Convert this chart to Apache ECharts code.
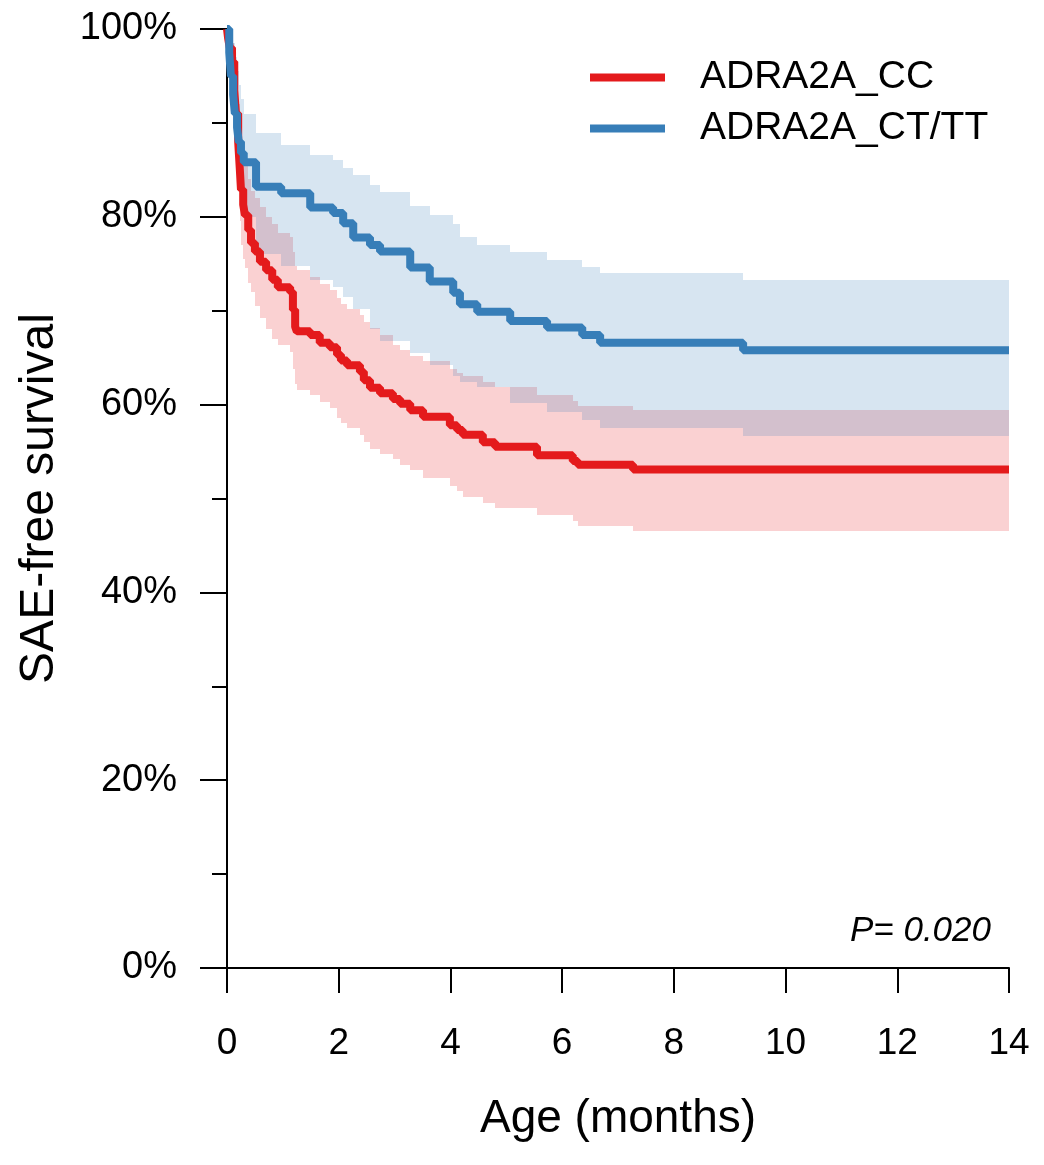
<!DOCTYPE html>
<html>
<head>
<meta charset="utf-8">
<script src="https://cdn.jsdelivr.net/npm/echarts@6/dist/echarts.min.js"></script>
<style>
html,body{margin:0;padding:0;background:#fff;}
#chart{width:1044px;height:1165px;}
</style>
</head>
<body>
<div id="chart"></div>
<script>
// ---- data (months, survival %) ----
const xTicks = [0, 2, 4, 6, 8, 10, 12, 14];
const yTicks = [0, 20, 40, 60, 80, 100];

const ccTime  = [0, 0.02, 0.05, 0.09, 0.13, 0.16, 0.20, 0.23, 0.25, 0.29, 0.32, 0.38, 0.43, 0.50, 0.59, 0.70, 0.81, 0.91, 1.13, 1.18, 1.22, 1.25, 1.49, 1.66, 1.84, 1.97, 2.04, 2.15, 2.38, 2.45, 2.56, 2.74, 2.97, 3.10, 3.28, 3.51, 3.99, 4.12, 4.22, 4.58, 4.80, 5.55, 6.19, 6.28, 7.27, 14];
const ccSurv  = [100, 99, 98, 96.5, 93.5, 91, 88, 85, 82.9, 81.3, 80.2, 78.6, 77.2, 76.3, 75.2, 74.3, 73.3, 72.5, 72.0, 70.1, 68.3, 67.8, 67.4, 66.6, 66.1, 65.3, 64.7, 64.2, 63.5, 62.6, 61.8, 61.2, 60.6, 60.1, 59.4, 58.7, 57.8, 57.3, 56.8, 56.0, 55.5, 54.6, 54.0, 53.6, 53.1, 53.1];
const ccLower = [100, 97, 95, 92.5, 89, 86, 83, 79.5, 77, 75.5, 74.5, 73, 72, 70.5, 69.2, 68, 67, 66.3, 65.6, 63.8, 62.2, 61.6, 61.0, 60.3, 59.6, 58.6, 58.0, 57.5, 56.8, 56.0, 55.3, 54.7, 54.2, 53.6, 53.0, 52.2, 51.3, 50.8, 50.2, 49.5, 49.0, 48.2, 47.6, 47.1, 46.5, 46.5];
const ccUpper = [100, 100, 99.5, 98.5, 96.5, 94.5, 92, 89.5, 88, 86.5, 85.5, 84, 82.8, 82, 81, 80, 79.2, 78.3, 77.8, 76.2, 74.8, 74.3, 73.6, 72.8, 72.2, 71.3, 70.7, 70.2, 69.5, 68.8, 68.2, 67.4, 66.3, 65.8, 65.2, 64.6, 63.8, 63.4, 63.0, 62.4, 61.9, 61.0, 60.4, 59.9, 59.4, 59.4];

const ttTime  = [0, 0.04, 0.07, 0.11, 0.14, 0.18, 0.21, 0.25, 0.30, 0.52, 0.97, 1.49, 1.90, 2.08, 2.26, 2.56, 2.74, 3.28, 3.63, 4.05, 4.17, 4.48, 5.07, 5.73, 6.36, 6.68, 9.24, 14];
const ttSurv  = [100, 97.5, 95, 93, 91, 89.5, 88, 86.8, 85.8, 83.2, 82.5, 81.0, 80.4, 79.3, 77.8, 77.0, 76.3, 74.6, 73.1, 71.9, 70.7, 69.9, 68.9, 68.2, 67.4, 66.6, 65.8, 65.8];
const ttLower = [100, 95, 92, 89.5, 87, 85, 83, 81.5, 80, 76, 74.8, 73.3, 72.5, 71.5, 70.2, 68.0, 66.8, 65.5, 64.2, 63.0, 62.4, 61.9, 60.2, 59.2, 58.4, 57.5, 56.7, 56.7];
const ttUpper = [100, 100, 99.5, 98.5, 97, 95.5, 94, 92.5, 91, 88.9, 87.6, 86.6, 86.0, 85.2, 84.4, 83.4, 82.6, 81.2, 80.2, 79.2, 77.8, 77.0, 76.3, 75.4, 74.7, 74.0, 73.3, 73.3];

const groupNames = ['ADRA2A_CC', 'ADRA2A_CT/TT'];
const pText = 'P= 0.020';

// ---- build ----
const RED = '#E41A1C', BLUE = '#377EB8';
const FONT = '"Liberation Sans", Arial, Helvetica, sans-serif';
const pairs = (t, v) => t.map((x, i) => [x, v[i]]);
// one row per step interval: [tStart, tEnd, lower, upper]
const bandRows = (t, lo, hi) => t.slice(0, -1).map((x, i) => [x, t[i + 1], lo[i], hi[i]]);

function bandSeries(id, t, lo, hi, color, z) {
  return {
    name: id + '_band', type: 'custom', silent: true, z: z,
    data: bandRows(t, lo, hi),
    encode: { x: [0, 1], y: [2, 3] },
    renderItem: function (params, api) {
      const p1 = api.coord([api.value(0), api.value(3)]);
      const p2 = api.coord([api.value(1), api.value(2)]);
      const x1 = Math.round(p1[0]), x2 = Math.round(p2[0]);
      const y1 = Math.round(p1[1]), y2 = Math.round(p2[1]);
      return { type: 'rect', shape: { x: x1, y: y1, width: x2 - x1, height: y2 - y1 },
               style: { fill: color } };
    }
  };
}

const chart = echarts.init(document.getElementById('chart'), null, { renderer: 'canvas' });
chart.setOption({
  animation: false,
  backgroundColor: '#ffffff',
  grid: { left: 227, right: 35, top: 29, bottom: 197, containLabel: false },
  title: {
    text: pText, right: 48, top: 909,
    textStyle: { fontFamily: FONT, fontSize: 35, fontStyle: 'italic', fontWeight: 'normal', color: '#000' }
  },
  legend: {
    data: groupNames, orient: 'vertical', left: 585, top: 52,
    icon: 'rect', itemWidth: 75, itemHeight: 8, itemGap: 10,
    textStyle: { fontFamily: FONT, fontSize: 39, color: '#000', lineHeight: 41, padding: [0, 0, 0, 30] }
  },
  xAxis: {
    type: 'value', min: 0, max: 14, interval: 2,
    name: 'Age (months)', nameLocation: 'middle', nameGap: 128,
    nameTextStyle: { fontFamily: FONT, fontSize: 46, color: '#000' },
    axisLine: { show: true, lineStyle: { color: '#000', width: 2 } },
    axisTick: { show: true, length: 25, lineStyle: { color: '#000', width: 2 } },
    axisLabel: { fontFamily: FONT, fontSize: 37, color: '#000', margin: 57 },
    splitLine: { show: false }
  },
  yAxis: {
    type: 'value', min: 0, max: 100, interval: 20,
    name: 'SAE-free survival', nameLocation: 'middle', nameGap: 163,
    nameTextStyle: { fontFamily: FONT, fontSize: 48, color: '#000' },
    axisLine: { show: true, lineStyle: { color: '#000', width: 2 } },
    axisTick: { show: true, length: 27, lineStyle: { color: '#000', width: 2 } },
    minorTick: { show: true, splitNumber: 2, length: 15, lineStyle: { color: '#000', width: 2 } },
    axisLabel: { fontFamily: FONT, fontSize: 38, color: '#000', margin: 50, formatter: '{value}%' },
    splitLine: { show: false }, minorSplitLine: { show: false }
  },
  series: [
    bandSeries('cc', ccTime, ccLower, ccUpper, 'rgba(228,26,28,0.2)', 1),
    bandSeries('tt', ttTime, ttLower, ttUpper, 'rgba(55,126,184,0.2)', 2),
    { name: groupNames[0], type: 'line', step: 'end', data: pairs(ccTime, ccSurv), showSymbol: false,
      color: RED, lineStyle: { color: RED, width: 8 }, z: 3 },
    { name: groupNames[1], type: 'line', step: 'end', data: pairs(ttTime, ttSurv), showSymbol: false,
      color: BLUE, lineStyle: { color: BLUE, width: 8 }, z: 4 }
  ]
});
</script>
</body>
</html>
